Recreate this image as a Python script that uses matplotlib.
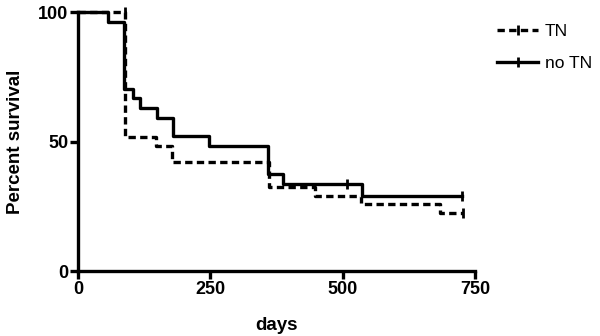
import matplotlib
matplotlib.use("Agg")
import matplotlib.pyplot as plt
from matplotlib.lines import Line2D

plt.rcParams['font.family'] = ['Liberation Sans', 'DejaVu Sans']

# Kaplan-Meier steps (days, percent survival)
tn_days = [0, 88, 148, 178, 360, 447, 534, 684, 727]
tn_surv = [100, 51.7, 48.3, 42.0, 32.3, 28.9, 25.9, 22.3, 22.3]
tn_cens_days = [88, 727]
tn_cens_surv = [100, 22.3]

notn_days = [0, 57, 87, 104, 117, 149, 179, 248, 358, 387, 536, 725]
notn_surv = [100, 96.2, 70.5, 66.7, 62.8, 59.3, 52.1, 48.3, 37.5, 33.6, 29.1, 29.1]
notn_cens_days = [507, 725]
notn_cens_surv = [33.6, 29.1]

fig = plt.figure(figsize=(6.0, 3.36), dpi=100)
ax = fig.add_axes([0.13, 0.193, 0.662, 0.771])

lw = 2.4
ax.step(tn_days, tn_surv, where='post', color='black', lw=lw,
        linestyle=(0, (2.2, 1.3)), solid_capstyle='butt', clip_on=False)
ax.plot(tn_cens_days, tn_cens_surv, linestyle='none', marker='|', ms=7,
        mew=2, color='black', clip_on=False)
ax.step(notn_days, notn_surv, where='post', color='black', lw=lw, clip_on=False)
ax.plot(notn_cens_days, notn_cens_surv, linestyle='none', marker='|', ms=7,
        mew=2, color='black', clip_on=False)

ax.set_xlim(0, 750)
ax.set_ylim(0, 100)
ax.set_xticks([0, 250, 500, 750])
ax.set_yticks([0, 50, 100])
for s in ['top', 'right']:
    ax.spines[s].set_visible(False)
for s in ['left', 'bottom']:
    ax.spines[s].set_linewidth(2.4)
ax.tick_params(width=2.4, length=6, labelsize=13, pad=1)
for lab in ax.get_xticklabels() + ax.get_yticklabels():
    lab.set_fontweight('bold')

ax.set_xlabel('days', fontsize=13.5, fontweight='bold', labelpad=14)
ax.set_ylabel('Percent survival', fontsize=13.5, fontweight='bold', labelpad=10)

handles = [
    Line2D([], [], color='black', lw=lw, linestyle=(0, (2.2, 1.3)),
           marker='|', ms=7, mew=2),
    Line2D([], [], color='black', lw=lw, marker='|', ms=7, mew=2),
]
fig.legend(handles, ['TN', 'no TN'], loc='upper left',
           bbox_to_anchor=(0.802, 0.975), frameon=False, fontsize=12.5,
           handlelength=2.4, numpoints=1, labelspacing=0.95, handletextpad=0.35)

fig.savefig('out.png', dpi=100)
